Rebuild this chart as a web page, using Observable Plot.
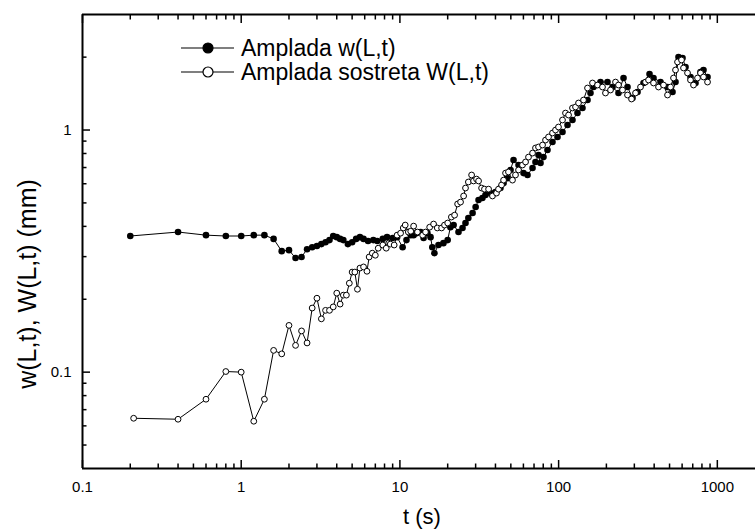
<!DOCTYPE html>
<html><head><meta charset="utf-8">
<script src="https://cdn.jsdelivr.net/npm/d3@7"></script>
<script src="https://cdn.jsdelivr.net/npm/@observablehq/plot@0.6"></script>
<style>body{margin:0;background:#fff}</style>
</head><body><div id="chart"></div>
<script>
const FONT = "'Liberation Sans', Arial, Helvetica, sans-serif";
const seriesNames = ["Amplada w(L,t)", "Amplada sostreta W(L,t)"];
const xLabel = "t (s)";
const yLabel = "w(L,t), W(L,t) (mm)";

const tFilled = [0.2,0.4,0.6,0.8,1.0,1.2,1.4,1.6,1.8,2.0,2.2,2.4,2.6,2.8,3.0,3.2,3.4,3.6,3.8,4.0,4.2,4.4,4.7,5.0,5.3,5.6,5.9,6.3,6.8,7.2,7.8,8.3,9.0,9.6,10.4,11.0,11.7,12.2,12.7,13.5,14.1,14.9,15.6,16.0,16.5,17.5,18.8,20.0,20.8,21.8,23.4,24.8,25.9,27.0,28.7,30.0,31.3,33.1,34.6,37.2,40.0,43.0,45.0,47.6,49.8,52.0,55.9,60.1,63.7,68.5,71.5,74.7,76.9,80.3,85.1,91.5,98.4,105.8,113.8,122.3,131.5,141.4,152.1,158.8,165.9,183.6,203.2,218.6,238.4,256.4,271.7,292.2,314.3,342.7,373.9,396.2,438.5,485.6,522.0,545.2,569.4,603.5,630.3,677.7,728.7,783.4,818.3,867.5];
const wFilled = [0.365,0.379,0.368,0.365,0.365,0.368,0.368,0.355,0.316,0.319,0.296,0.299,0.322,0.328,0.332,0.338,0.344,0.351,0.365,0.361,0.355,0.351,0.338,0.344,0.355,0.361,0.355,0.348,0.351,0.348,0.355,0.361,0.358,0.361,0.328,0.351,0.368,0.368,0.375,0.379,0.358,0.375,0.361,0.328,0.310,0.335,0.341,0.351,0.397,0.405,0.379,0.394,0.413,0.433,0.454,0.481,0.514,0.524,0.539,0.549,0.554,0.576,0.604,0.633,0.684,0.752,0.717,0.664,0.652,0.697,0.738,0.788,0.731,0.773,0.827,0.892,0.936,0.981,1.049,1.100,1.175,1.233,1.330,1.422,1.505,1.578,1.578,1.505,1.422,1.640,1.505,1.356,1.436,1.564,1.704,1.640,1.578,1.505,1.436,1.578,2.003,1.984,1.821,1.656,1.564,1.737,1.770,1.656];

const tOpen = [0.21,0.4,0.6,0.8,1.0,1.2,1.4,1.6,1.8,2.0,2.2,2.4,2.6,2.8,3.0,3.2,3.4,3.6,3.8,4.0,4.2,4.4,4.6,4.8,5.0,5.2,5.4,5.6,5.9,6.2,6.4,6.7,7.0,7.3,7.8,8.2,8.5,8.7,9.2,9.6,10.1,10.5,10.8,11.3,11.7,12.2,12.9,13.9,14.5,15.4,16.3,17.2,18.3,19.1,20.0,21.1,22.1,23.1,24.1,25.2,25.9,27.0,28.3,29.1,30.4,31.3,32.7,34.1,36.2,38.3,40.6,41.8,43.7,45.0,46.3,48.3,51.2,53.5,55.9,59.2,61.9,64.6,68.5,71.5,74.7,79.2,82.7,86.4,91.5,95.6,99.8,105.8,110.5,115.5,122.3,127.8,133.5,143.5,152.1,163.5,175.8,189.0,197.4,212.3,228.3,238.4,252.7,271.7,288.0,305.3,328.1,352.8,368.5,396.2,426.1,458.1,485.6,507.2,529.6,545.2,561.3,594.8,612.3,648.9,677.7,707.9,750.2,783.4,818.3,867.5];
const wOpen = [0.0645,0.0639,0.0773,0.1006,0.100,0.0627,0.0773,0.123,0.119,0.156,0.129,0.148,0.132,0.184,0.202,0.166,0.180,0.180,0.186,0.212,0.191,0.208,0.208,0.233,0.259,0.259,0.220,0.269,0.272,0.261,0.299,0.310,0.304,0.325,0.335,0.325,0.341,0.338,0.335,0.368,0.375,0.394,0.405,0.379,0.382,0.401,0.379,0.368,0.379,0.397,0.409,0.394,0.394,0.405,0.413,0.437,0.445,0.495,0.504,0.534,0.576,0.610,0.652,0.616,0.627,0.616,0.576,0.570,0.570,0.534,0.549,0.570,0.593,0.621,0.664,0.671,0.621,0.652,0.684,0.717,0.738,0.773,0.803,0.843,0.851,0.867,0.909,0.936,0.972,1.0,1.029,1.100,1.175,1.153,1.233,1.245,1.293,1.330,1.491,1.564,1.534,1.505,1.422,1.463,1.578,1.534,1.463,1.395,1.343,1.422,1.505,1.578,1.609,1.564,1.505,1.534,1.395,1.505,1.640,1.770,1.91,1.947,1.804,1.720,1.609,1.534,1.640,1.720,1.656,1.578];

const xMajorTicks = [0.1, 1, 10, 100, 1000];
const xMinorTicks = [0.2,0.3,0.4,0.5,0.6,0.7,0.8,0.9,2,3,4,5,6,7,8,9,20,30,40,50,60,70,80,90,200,300,400,500,600,700,800,900];
const yMajorTicks = [0.1, 1];
const yMinorTicks = [0.05,0.06,0.07,0.08,0.09,0.2,0.3,0.4,0.5,0.6,0.7,0.8,0.9,2];
const xDomain = [0.1, 1740];
const yDomain = [0.04, 3];

const filled = tFilled.map((t, i) => ({t, w: wFilled[i]}));
const open = tOpen.map((t, i) => ({t, w: wOpen[i]}));

// legend and axis titles (drawn inside the Plot SVG)
function annotations(index, scales, values, dims) {
  const g = d3.create("svg:g").attr("font-family", FONT).attr("fill", "black");
  seriesNames.forEach((name, i) => {
    const y = 48 + i * 24;
    g.append("line").attr("x1", 181).attr("x2", 234).attr("y1", y).attr("y2", y)
      .attr("stroke", "black").attr("stroke-width", 1.2);
    g.append("circle").attr("cx", 208).attr("cy", y).attr("r", 5)
      .attr("fill", i === 0 ? "black" : "white").attr("stroke", "black").attr("stroke-width", 1.2);
    g.append("text").attr("x", 241).attr("y", y).attr("dy", "0.36em")
      .attr("text-anchor", "start").attr("font-size", 23).text(name);
  });
  g.append("text").attr("x", 422).attr("y", 516).attr("dy", "0.36em")
    .attr("text-anchor", "middle").attr("font-size", 22).text(xLabel);
  g.append("text").attr("transform", "translate(27,284) rotate(-90)").attr("dy", "0.36em")
    .attr("text-anchor", "middle").attr("font-size", 25).text(yLabel);
  return g.node();
}

const blank = () => "";
const chart = Plot.plot({
  width: 755, height: 532,
  marginLeft: 82, marginRight: 0, marginTop: 14, marginBottom: 64,
  x: {type: "log", domain: xDomain, label: null},
  y: {type: "log", domain: yDomain, label: null},
  style: {fontFamily: FONT, fontSize: "15px", background: "white", color: "black"},
  marks: [
    Plot.axisX(xMajorTicks, {anchor: "bottom", tickSize: 8, dy: -8, tickFormat: blank, strokeWidth: 1.5, label: null}),
    Plot.axisX(xMinorTicks, {anchor: "bottom", tickSize: 4.5, dy: -4.5, tickFormat: blank, strokeWidth: 1.5, label: null}),
    Plot.axisX(xMajorTicks, {anchor: "top", tickSize: 8, dy: 8, tickFormat: blank, strokeWidth: 1.5, label: null}),
    Plot.axisX(xMinorTicks, {anchor: "top", tickSize: 4.5, dy: 4.5, tickFormat: blank, strokeWidth: 1.5, label: null}),
    Plot.axisY(yMajorTicks, {anchor: "left", tickSize: 8, dx: 8, tickFormat: blank, strokeWidth: 1.5, label: null}),
    Plot.axisY(yMinorTicks, {anchor: "left", tickSize: 4.5, dx: 4.5, tickFormat: blank, strokeWidth: 1.5, label: null}),
    Plot.axisX(xMajorTicks, {anchor: "bottom", tickSize: 0, tickPadding: 13, tickFormat: d => String(d), fontSize: 15, label: null}),
    Plot.axisY(yMajorTicks, {anchor: "left", tickSize: 0, tickPadding: 11, tickFormat: d => String(d), fontSize: 15, label: null}),
    Plot.ruleX([xDomain[0]], {strokeWidth: 2}),
    Plot.ruleY([yDomain[0]], {strokeWidth: 2}),
    Plot.ruleY([yDomain[1]], {strokeWidth: 2}),
    Plot.line(filled, {x: "t", y: "w", stroke: "black", strokeWidth: 1}),
    Plot.dot(filled, {x: "t", y: "w", r: 3.3, fill: "black", stroke: "none"}),
    Plot.line(open, {x: "t", y: "w", stroke: "black", strokeWidth: 1}),
    Plot.dot(open, {x: "t", y: "w", r: 2.9, fill: "white", stroke: "black", strokeWidth: 1}),
    annotations
  ]
});
document.getElementById("chart").append(chart);
</script>
</body></html>
